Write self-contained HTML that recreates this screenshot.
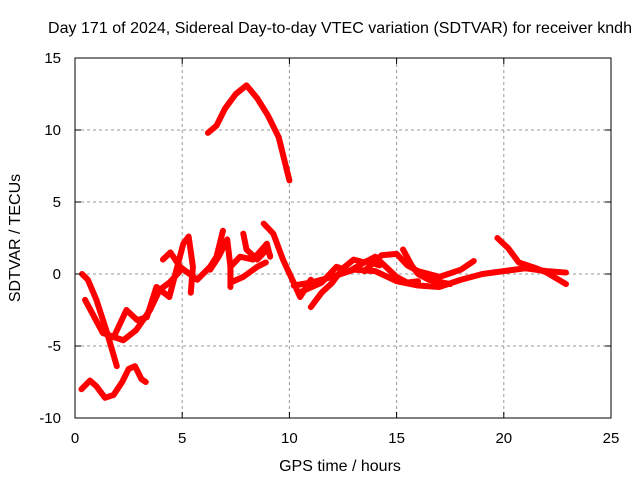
<!DOCTYPE html>
<html><head><meta charset="utf-8"><style>
body{margin:0;background:#fff;}
svg text{font-family:"Liberation Sans",sans-serif;font-size:15px;fill:#000;}
svg text.big{font-size:16px;}
</style></head><body>
<svg id="chart" width="640" height="480" xmlns="http://www.w3.org/2000/svg">
<text class="big" x="48" y="33" textLength="584">Day 171 of 2024, Sidereal Day-to-day VTEC variation (SDTVAR) for receiver kndh</text>
<text class="big" x="340" y="471" text-anchor="middle">GPS time / hours</text>
<text class="big" transform="translate(20,238) rotate(-90)" text-anchor="middle">SDTVAR / TECUs</text>
<g id="grid"></g><g id="series"></g>
<rect x="75" y="58" width="536" height="360" fill="none" stroke="#000" stroke-width="1"/>
<g id="ticks"></g>
</svg>
<script>
const xTicks=[0,5,10,15,20,25];
const yTicks=[-10,-5,0,5,10,15];
const arcA=[[6.2,9.8],[6.6,10.3],[7,11.5],[7.5,12.5],[8,13.1],[8.5,12.2],[9,11],[9.5,9.5],[10,6.5]];
const arcB=[[0.3,-8],[0.7,-7.4],[1,-7.8],[1.4,-8.6],[1.8,-8.4],[2.2,-7.5],[2.5,-6.6],[2.8,-6.4],[3.1,-7.3],[3.3,-7.5]];
const arcC=[[0.33,0],[0.6,-0.4],[1.0,-1.8],[1.5,-4.1],[1.95,-6.4]];
const arcC2=[[1.8,-4.4],[2.4,-2.5],[2.9,-3.2],[3.35,-3],[3.8,-0.9],[4.4,-1.6],[5.05,2.1],[5.3,2.6],[5.5,0.5],[5.4,-1.3]];
const arcD=[[0.47,-1.8],[1.3,-4.1],[2.25,-4.6],[2.85,-3.9],[3.5,-2.5],[3.95,-1.1],[4.4,-0.6],[4.9,0.2]];
const arcE=[[4.1,1.0],[4.45,1.5],[4.9,0.5],[5.7,-0.4],[6.3,0.5],[6.6,1.2],[6.9,3.0]];
const arcE2=[[6.3,0.3],[6.7,1.2],[7.1,2.4],[7.25,0.5],[7.25,-0.9]];
const arcF=[[7.85,2.8],[8.0,1.7],[8.5,1.0],[8.95,1.7],[9.1,1.3]];
const arcG=[[7.25,0.5],[7.7,1.2],[8.3,1.0],[8.95,2.1],[9.1,1.2]];
const arcH=[[8.8,3.5],[9.25,2.8],[9.7,1.0],[10.2,-0.6],[10.5,-1.6],[11,-0.4]];
const arcI=[[7.25,-0.6],[7.85,-0.2],[8.5,0.5],[8.9,0.8]];
const arcJ=[[10.2,-0.8],[11,-0.6],[12,-0.2],[13,0.3],[14,0.2],[15,-0.5],[16,-0.8],[17,-0.9],[18,-0.4],[19,0],[20,0.2],[21,0.4],[22,0.2],[22.9,0.1]];
const arcK=[[11,-2.3],[11.5,-1.3],[12,-0.6],[12.5,0.4],[13,1.0],[13.5,0.8],[14,1.2],[14.5,0.5],[15,-0.2],[15.5,-0.6],[16,-0.5]];
const arcL=[[13.5,0.2],[14.3,1.3],[15,1.4],[15.5,0.6],[16,0.2],[16.5,0.0],[17,-0.2],[18,0.3],[18.6,0.9]];
const arcM=[[15.3,1.7],[15.7,0.6],[16,0],[16.5,-0.4],[17.5,-0.7]];
const arcN=[[19.7,2.5],[20.2,1.8],[20.7,0.8],[21.5,0.4],[22,0.1],[22.9,-0.7]];
const arcO=[[10.6,-1.2],[11.5,-0.6],[12.2,0.5],[12.8,0.2],[13.6,0.9],[14.2,0.6]];
const arcs=[arcA,arcB,arcC,arcC2,arcD,arcE,arcE2,arcF,arcG,arcH,arcI,arcJ,arcK,arcL,arcM,arcN,arcO];
const X0=75,X1=611,Y0=418,Y1=58;
const xs=h=>X0+h/25*(X1-X0);
const ys=v=>Y0-(v+10)/25*(Y0-Y1);
const NS='http://www.w3.org/2000/svg';
const grid=document.getElementById('grid'),ticks=document.getElementById('ticks'),ser=document.getElementById('series');
function mk(t,a,p){const e=document.createElementNS(NS,t);for(const k in a)e.setAttribute(k,a[k]);p.appendChild(e);return e;}
xTicks.forEach(t=>{const x=xs(t);
 if(t>0&&t<25){const g=mk('line',{x1:x,x2:x,y1:Y1,y2:Y0,stroke:'#999','stroke-dasharray':'3,3'},grid);
 
 }
 const l=mk('text',{x:x,y:443,'text-anchor':'middle'},ticks);l.textContent=t;
 
 
 mk('line',{x1:x,x2:x,y1:Y0,y2:Y0-6,stroke:'#000'},ticks);mk('line',{x1:x,x2:x,y1:Y1,y2:Y1+6,stroke:'#000'},ticks);});
yTicks.forEach(t=>{const y=ys(t);
 if(t>-10&&t<15){const g=mk('line',{x1:X0,x2:X1,y1:y,y2:y,stroke:'#999','stroke-dasharray':'3,3'},grid);
 
 }
 const l=mk('text',{x:61,y:y+5,'text-anchor':'end'},ticks);l.textContent=t;
 
 
 mk('line',{x1:X0,x2:X0+6,y1:y,y2:y,stroke:'#000'},ticks);mk('line',{x1:X1,x2:X1-6,y1:y,y2:y,stroke:'#000'},ticks);});
arcs.forEach(a=>{const p=mk('polyline',{points:a.map(d=>xs(d[0])+','+ys(d[1])).join(' '),fill:'none',stroke:'#f00','stroke-width':6,'stroke-linejoin':'round','stroke-linecap':'round'},ser);
 
 });
</script>
</body></html>
